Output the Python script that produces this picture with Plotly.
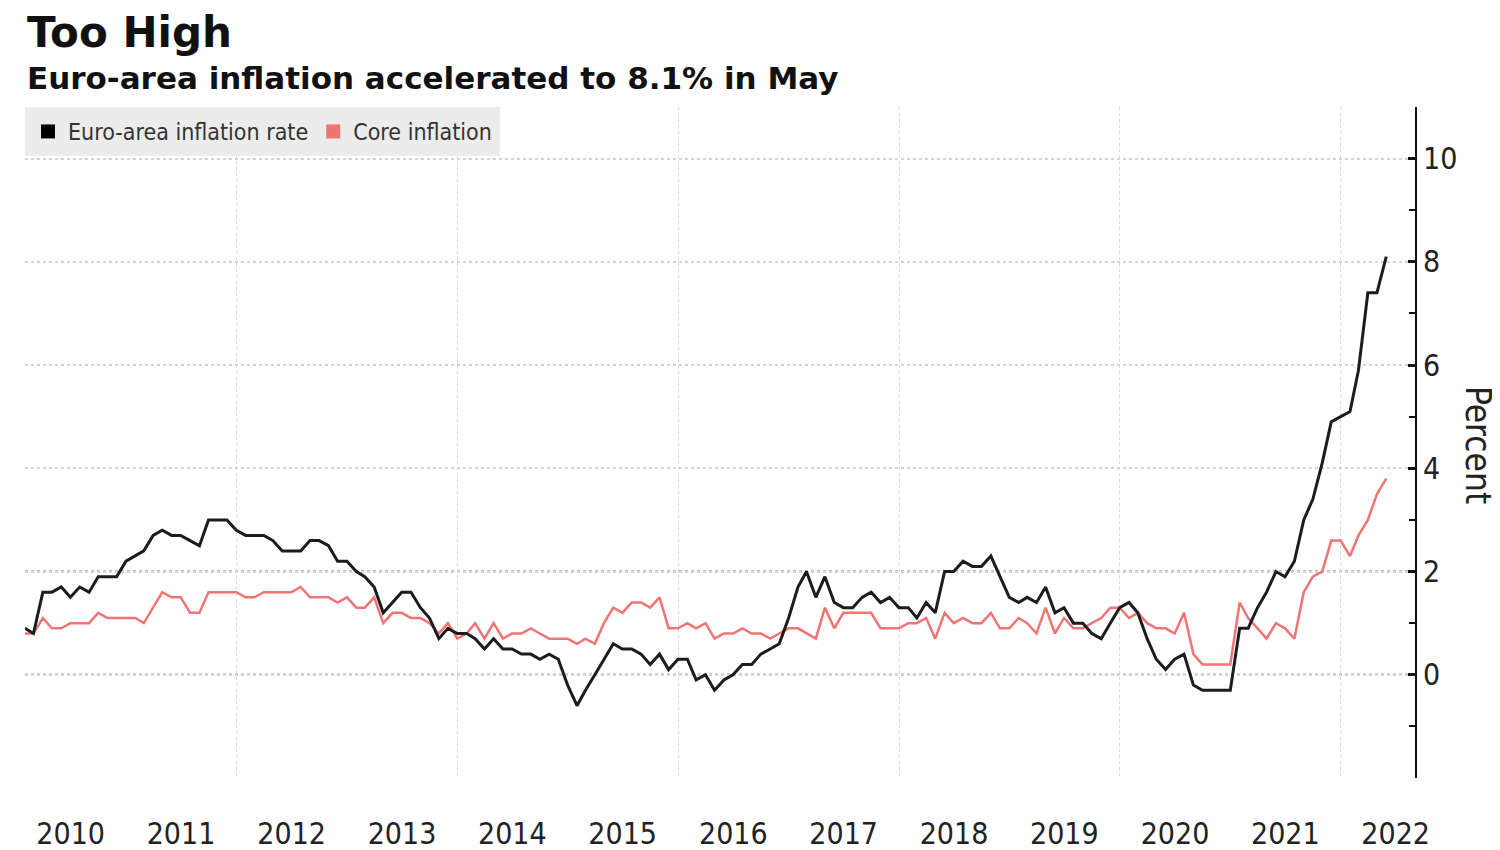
import pandas as pd
import plotly.graph_objects as go

# ---------------- data ----------------
start_month = "2010-01-31"
headline = [0.9, 0.8, 1.6, 1.6, 1.7, 1.5, 1.7, 1.6, 1.9, 1.9, 1.9, 2.2,
            2.3, 2.4, 2.7, 2.8, 2.7, 2.7, 2.6, 2.5, 3.0, 3.0, 3.0, 2.8,
            2.7, 2.7, 2.7, 2.6, 2.4, 2.4, 2.4, 2.6, 2.6, 2.5, 2.2, 2.2,
            2.0, 1.9, 1.7, 1.2, 1.4, 1.6, 1.6, 1.3, 1.1, 0.7, 0.9, 0.8,
            0.8, 0.7, 0.5, 0.7, 0.5, 0.5, 0.4, 0.4, 0.3, 0.4, 0.3, -0.2,
            -0.6, -0.3, 0.0, 0.3, 0.6, 0.5, 0.5, 0.4, 0.2, 0.4, 0.1, 0.3,
            0.3, -0.1, 0.0, -0.3, -0.1, 0.0, 0.2, 0.2, 0.4, 0.5, 0.6, 1.1,
            1.7, 2.0, 1.5, 1.9, 1.4, 1.3, 1.3, 1.5, 1.6, 1.4, 1.5, 1.3,
            1.3, 1.1, 1.4, 1.2, 2.0, 2.0, 2.2, 2.1, 2.1, 2.3, 1.9, 1.5,
            1.4, 1.5, 1.4, 1.7, 1.2, 1.3, 1.0, 1.0, 0.8, 0.7, 1.0, 1.3,
            1.4, 1.2, 0.7, 0.3, 0.1, 0.3, 0.4, -0.2, -0.3, -0.3, -0.3, -0.3,
            0.9, 0.9, 1.3, 1.6, 2.0, 1.9, 2.2, 3.0, 3.4, 4.1, 4.9, 5.0,
            5.1, 5.9, 7.4, 7.4, 8.1]
core = [0.8, 0.8, 1.1, 0.9, 0.9, 1.0, 1.0, 1.0, 1.2, 1.1, 1.1, 1.1,
        1.1, 1.0, 1.3, 1.6, 1.5, 1.5, 1.2, 1.2, 1.6, 1.6, 1.6, 1.6,
        1.5, 1.5, 1.6, 1.6, 1.6, 1.6, 1.7, 1.5, 1.5, 1.5, 1.4, 1.5,
        1.3, 1.3, 1.5, 1.0, 1.2, 1.2, 1.1, 1.1, 1.0, 0.8, 1.0, 0.7,
        0.8, 1.0, 0.7, 1.0, 0.7, 0.8, 0.8, 0.9, 0.8, 0.7, 0.7, 0.7,
        0.6, 0.7, 0.6, 1.0, 1.3, 1.2, 1.4, 1.4, 1.3, 1.5, 0.9, 0.9,
        1.0, 0.9, 1.0, 0.7, 0.8, 0.8, 0.9, 0.8, 0.8, 0.7, 0.8, 0.9,
        0.9, 0.8, 0.7, 1.3, 0.9, 1.2, 1.2, 1.2, 1.2, 0.9, 0.9, 0.9,
        1.0, 1.0, 1.1, 0.7, 1.2, 1.0, 1.1, 1.0, 1.0, 1.2, 0.9, 0.9,
        1.1, 1.0, 0.8, 1.3, 0.8, 1.1, 0.9, 0.9, 1.0, 1.1, 1.3, 1.3,
        1.1, 1.2, 1.0, 0.9, 0.9, 0.8, 1.2, 0.4, 0.2, 0.2, 0.2, 0.2,
        1.4, 1.1, 0.9, 0.7, 1.0, 0.9, 0.7, 1.6, 1.9, 2.0, 2.6, 2.6,
        2.3, 2.7, 3.0, 3.5, 3.8]
dates = pd.date_range(start_month, periods=len(headline), freq="ME")

year_labels = [str(y) for y in range(2010, 2023)]
year_label_pos = [f"{y}-07-01" for y in range(2010, 2023)]
y_ticks = [-2, 0, 2, 4, 6, 8, 10]
y_ticktext = ["", "0", "2", "4", "6", "8", "10"]
emphasis_levels = [0, 2]

series_names = ["Euro-area inflation rate", "Core inflation"]
BLACK = "#1c1c1c"
RED = "#f07474"
NARROW = "DejaVu Sans Condensed, Liberation Sans Narrow, sans-serif"
BOLD = "DejaVu Sans, Verdana, sans-serif"

fig = go.Figure()
fig.add_trace(go.Scatter(x=dates, y=core, mode="lines", showlegend=False,
                         line=dict(color=RED, width=2.5)))
fig.add_trace(go.Scatter(x=dates, y=headline, mode="lines", showlegend=False,
                         line=dict(color=BLACK, width=3)))
# legend entries with square swatches
fig.add_trace(go.Scatter(x=[None], y=[None], mode="markers", name=series_names[0],
                         marker=dict(symbol="square", color="#000000", size=14)))
fig.add_trace(go.Scatter(x=[None], y=[None], mode="markers", name=series_names[1],
                         marker=dict(symbol="square", color=RED, size=14)))

for lvl in emphasis_levels:
    fig.add_shape(type="line", xref="paper", x0=0, x1=1, yref="y", y0=lvl, y1=lvl,
                  line=dict(color="#a8a8a8", width=2.5, dash="dot"), layer="below")

# the page body adds an 8px offset; figure is sized/margined to compensate
fig.update_layout(
    width=1492, height=842,
    paper_bgcolor="white", plot_bgcolor="white",
    margin=dict(l=17, r=85, t=99, b=72, autoexpand=False),
    showlegend=True,
    legend=dict(orientation="h", x=0, y=1, xanchor="left", yanchor="top",
                bgcolor="#ececec", bordercolor="#ececec", borderwidth=3,
                font=dict(family=NARROW, size=23, color="#333"),
                itemwidth=30, tracegroupgap=0),
    annotations=[
        dict(text="<b>Too High</b>", xref="paper", yref="paper", x=0, y=(778 - 32) / 671,
             xanchor="left", yanchor="middle", showarrow=False,
             font=dict(family=BOLD, size=42, color="#111")),
        dict(text="<b>Euro-area inflation accelerated to 8.1% in May</b>", xref="paper", yref="paper",
             x=0, y=(778 - 78) / 671, xanchor="left", yanchor="middle", showarrow=False,
             font=dict(family=BOLD, size=31, color="#111")),
        dict(text="Percent", xref="paper", yref="paper", x=(1478 - 25) / 1390, y=(778 - 445) / 671,
             xanchor="center", yanchor="middle", showarrow=False, textangle=90,
             font=dict(family=NARROW, size=35, color="#222")),
    ],
)

fig.update_xaxes(
    type="date", range=["2010-01-31", "2022-09-03"], automargin=False,
    tickmode="array", tickvals=year_label_pos, ticktext=year_labels,
    ticks="", showline=False, showgrid=False, zeroline=False,
    ticklabelstandoff=35,
    tickfont=dict(family=NARROW, size=30, color="#222"),
    minor=dict(tick0="2012-01-01", dtick="M24", showgrid=True,
               gridcolor="#d9d9d9", griddash="dot", gridwidth=1.2, ticks=""),
)
fig.update_yaxes(
    side="right", range=[-2, 11], automargin=False,
    tickmode="array", tickvals=y_ticks, ticktext=y_ticktext,
    ticks="inside", ticklen=7, tickwidth=3, tickcolor="#111",
    showline=True, linecolor="#111", linewidth=2,
    showgrid=True, gridcolor="#d4d4d4", griddash="dot", gridwidth=1.5,
    zeroline=False,
    tickfont=dict(family=NARROW, size=30, color="#222"),
    minor=dict(dtick=1, tick0=0, ticks="inside", ticklen=6, tickwidth=1.5,
               tickcolor="#111", showgrid=False),
)

fig.write_html("out.html")
